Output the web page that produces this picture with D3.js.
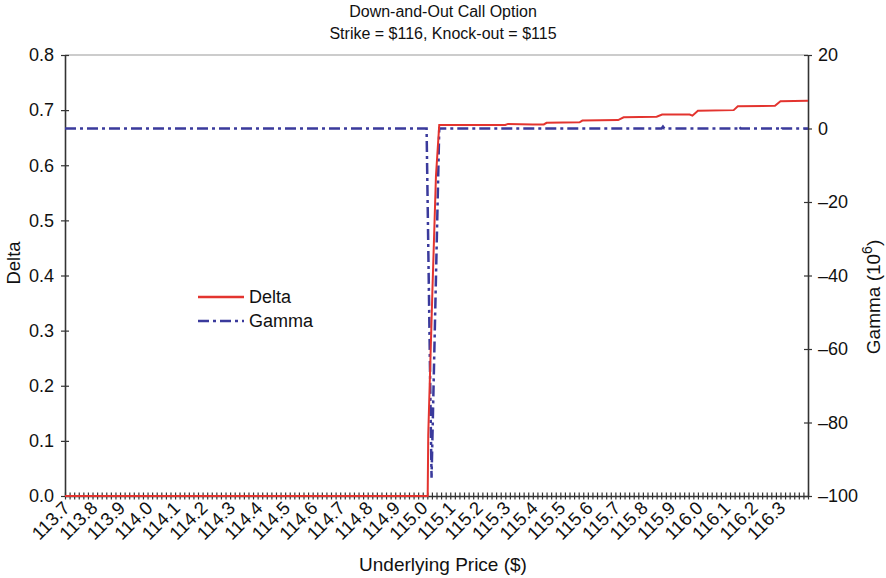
<!DOCTYPE html>
<html>
<head>
<meta charset="utf-8">
<script src="https://cdn.jsdelivr.net/npm/d3@7"></script>
<style>
  html, body { margin: 0; padding: 0; background: #fff; }
  svg { display: block; font-family: "Liberation Sans", Arial, sans-serif; }
</style>
</head>
<body>
<svg id="chart" width="886" height="578"></svg>
<script>
// Chart text
const titleLines = ["Down-and-Out Call Option", "Strike = $116, Knock-out = $115"];
const xTitle = "Underlying Price ($)";
const leftTitle = "Delta";
const seriesNames = ["Delta", "Gamma"];

// Underlying price tick labels
const priceLabels = ["113.7","113.8","113.9","114.0","114.1","114.2","114.3","114.4","114.5",
  "114.6","114.7","114.8","114.9","115.0","115.1","115.2","115.3","115.4","115.5",
  "115.6","115.7","115.8","115.9","116.0","116.1","116.2","116.3"];

// Left axis (delta) and right axis (gamma, 10^6) ticks
const deltaTicks = [0, 0.1, 0.2, 0.3, 0.4, 0.5, 0.6, 0.7, 0.8];
const gammaTicks = [20, 0, -20, -40, -60, -80, -100];

// Delta of the option against the underlying price
const deltaPrice = [113.70, 115.018, 115.020, 115.035, 115.048, 115.060, 115.30, 115.31,
  115.40, 115.44, 115.45, 115.57, 115.58, 115.71, 115.73, 115.85, 115.87, 115.97, 115.98,
  116.00, 116.13, 116.145, 116.28, 116.30, 116.40];
const deltaValue = [0, 0, 0.11, 0.37, 0.58, 0.673, 0.673, 0.675,
  0.674, 0.674, 0.677, 0.678, 0.681, 0.682, 0.687, 0.688, 0.692, 0.692, 0.690,
  0.699, 0.700, 0.707, 0.708, 0.716, 0.717];

// Gamma (10^6) against the underlying price
const gammaPrice = [113.70, 115.014, 115.032, 115.060, 115.868, 115.873, 115.878,
  116.145, 116.150, 116.155, 116.295, 116.300, 116.305, 116.40];
const gammaValue = [0, 0, -95, 0, 0, 0.5, 0,
  0, 0.6, 0, 0, -0.5, 0, 0];

const red = "#e3342f";
const blue = "#3a3a9c";
const axisColor = "#333";
const textColor = "#111";

const svg = d3.select("#chart");
const plotLeft = 65, plotRight = 808, plotTop = 55, plotBottom = 496;

const x = d3.scaleLinear().domain([113.7, 116.4]).range([plotLeft, plotRight]);
const yL = d3.scaleLinear().domain([0, 0.8]).range([plotBottom, plotTop]);
const yR = d3.scaleLinear().domain([-100, 20]).range([plotBottom, plotTop]);

// Title
svg.selectAll("text.title").data(titleLines).join("text")
  .attr("class", "title")
  .attr("x", 443).attr("y", (d, i) => 17 + i * 22)
  .attr("text-anchor", "middle").attr("font-size", 16).attr("fill", textColor)
  .text(d => d);

// Plot frame top edge
svg.append("line").attr("x1", plotLeft).attr("x2", plotRight).attr("y1", plotTop).attr("y2", plotTop)
  .attr("stroke", "#999").attr("stroke-width", 1);

// Left axis
const gL = svg.append("g").attr("transform", `translate(${plotLeft},0)`)
  .call(d3.axisLeft(yL).tickValues(deltaTicks).tickFormat(d3.format(".1f"))
    .tickSizeInner(4).tickSizeOuter(0).tickPadding(7));
gL.selectAll(".tick line").attr("x2", 4).attr("x1", -4);
// Right axis
const gR = svg.append("g").attr("transform", `translate(${plotRight},0)`)
  .call(d3.axisRight(yR).tickValues(gammaTicks).tickFormat(d => d < 0 ? "\u2013" + Math.abs(d) : d)
    .tickSizeInner(4).tickSizeOuter(0).tickPadding(6));
gR.selectAll(".tick line").attr("x1", -4).attr("x2", 4);

// Bottom axis with fine tick marks
const fineTicks = d3.range(0, 163).map(i => 113.7 + i / 60);
const gB = svg.append("g").attr("transform", `translate(0,${plotBottom})`)
  .call(d3.axisBottom(x).tickValues(fineTicks).tickFormat("").tickSizeInner(3).tickSizeOuter(0));
gB.selectAll(".tick line").attr("y1", -3.5).attr("y2", 3.5);

[gL, gR, gB].forEach(g => {
  g.select(".domain").attr("stroke", axisColor).attr("stroke-width", 1.6);
  g.selectAll(".tick line").attr("stroke", axisColor).attr("stroke-width", 1.2);
  g.selectAll(".tick text").attr("font-size", 18).attr("fill", textColor)
    .attr("font-family", "'Liberation Sans', Arial, sans-serif");
});

// Rotated price labels
svg.append("g").selectAll("text").data(priceLabels).join("text")
  .attr("transform", d => `translate(${x(+d) - 3},${plotBottom + 4}) rotate(-45)`)
  .attr("text-anchor", "end").attr("dy", "0.7em").attr("font-size", 18.5).attr("fill", textColor)
  .text(d => d);

// Axis titles
svg.append("text").attr("x", 443).attr("y", 571).attr("text-anchor", "middle")
  .attr("font-size", 19).attr("fill", textColor).text(xTitle);
svg.append("text").attr("transform", "translate(20,263) rotate(-90)").attr("text-anchor", "middle")
  .attr("font-size", 18.5).attr("fill", textColor).text(leftTitle);
const rt = svg.append("text").attr("transform", "translate(880,297) rotate(-90)")
  .attr("text-anchor", "middle").attr("font-size", 19).attr("fill", textColor);
rt.append("tspan").text("Gamma (10");
rt.append("tspan").attr("dy", -8).attr("font-size", 14).text("6");
rt.append("tspan").attr("dy", 8).text(")");

// Series lines
const gammaData = gammaPrice.map((p, i) => [p, gammaValue[i]]);
const deltaData = deltaPrice.map((p, i) => [p, deltaValue[i]]);

svg.append("path").datum(gammaData)
  .attr("d", d3.line().x(d => x(d[0])).y(d => yR(d[1])))
  .attr("fill", "none").attr("stroke", blue).attr("stroke-width", 2.5)
  .attr("stroke-dasharray", "11,4,3,4");

svg.append("path").datum(deltaData)
  .attr("d", d3.line().x(d => x(d[0])).y(d => yL(d[1])))
  .attr("fill", "none").attr("stroke", red).attr("stroke-width", 2);

// Legend
const legend = svg.append("g").attr("transform", "translate(198,297)");
legend.append("line").attr("x1", 0).attr("x2", 46).attr("y1", 0).attr("y2", 0)
  .attr("stroke", red).attr("stroke-width", 2.5);
legend.append("line").attr("x1", 0).attr("x2", 46).attr("y1", 24).attr("y2", 24)
  .attr("stroke", blue).attr("stroke-width", 2.5).attr("stroke-dasharray", "11,4,3,4");
legend.selectAll("text").data(seriesNames).join("text")
  .attr("x", 51).attr("y", (d, i) => i * 24).attr("dy", "0.36em")
  .attr("font-size", 18).attr("fill", textColor).text(d => d);
</script>
</body>
</html>
